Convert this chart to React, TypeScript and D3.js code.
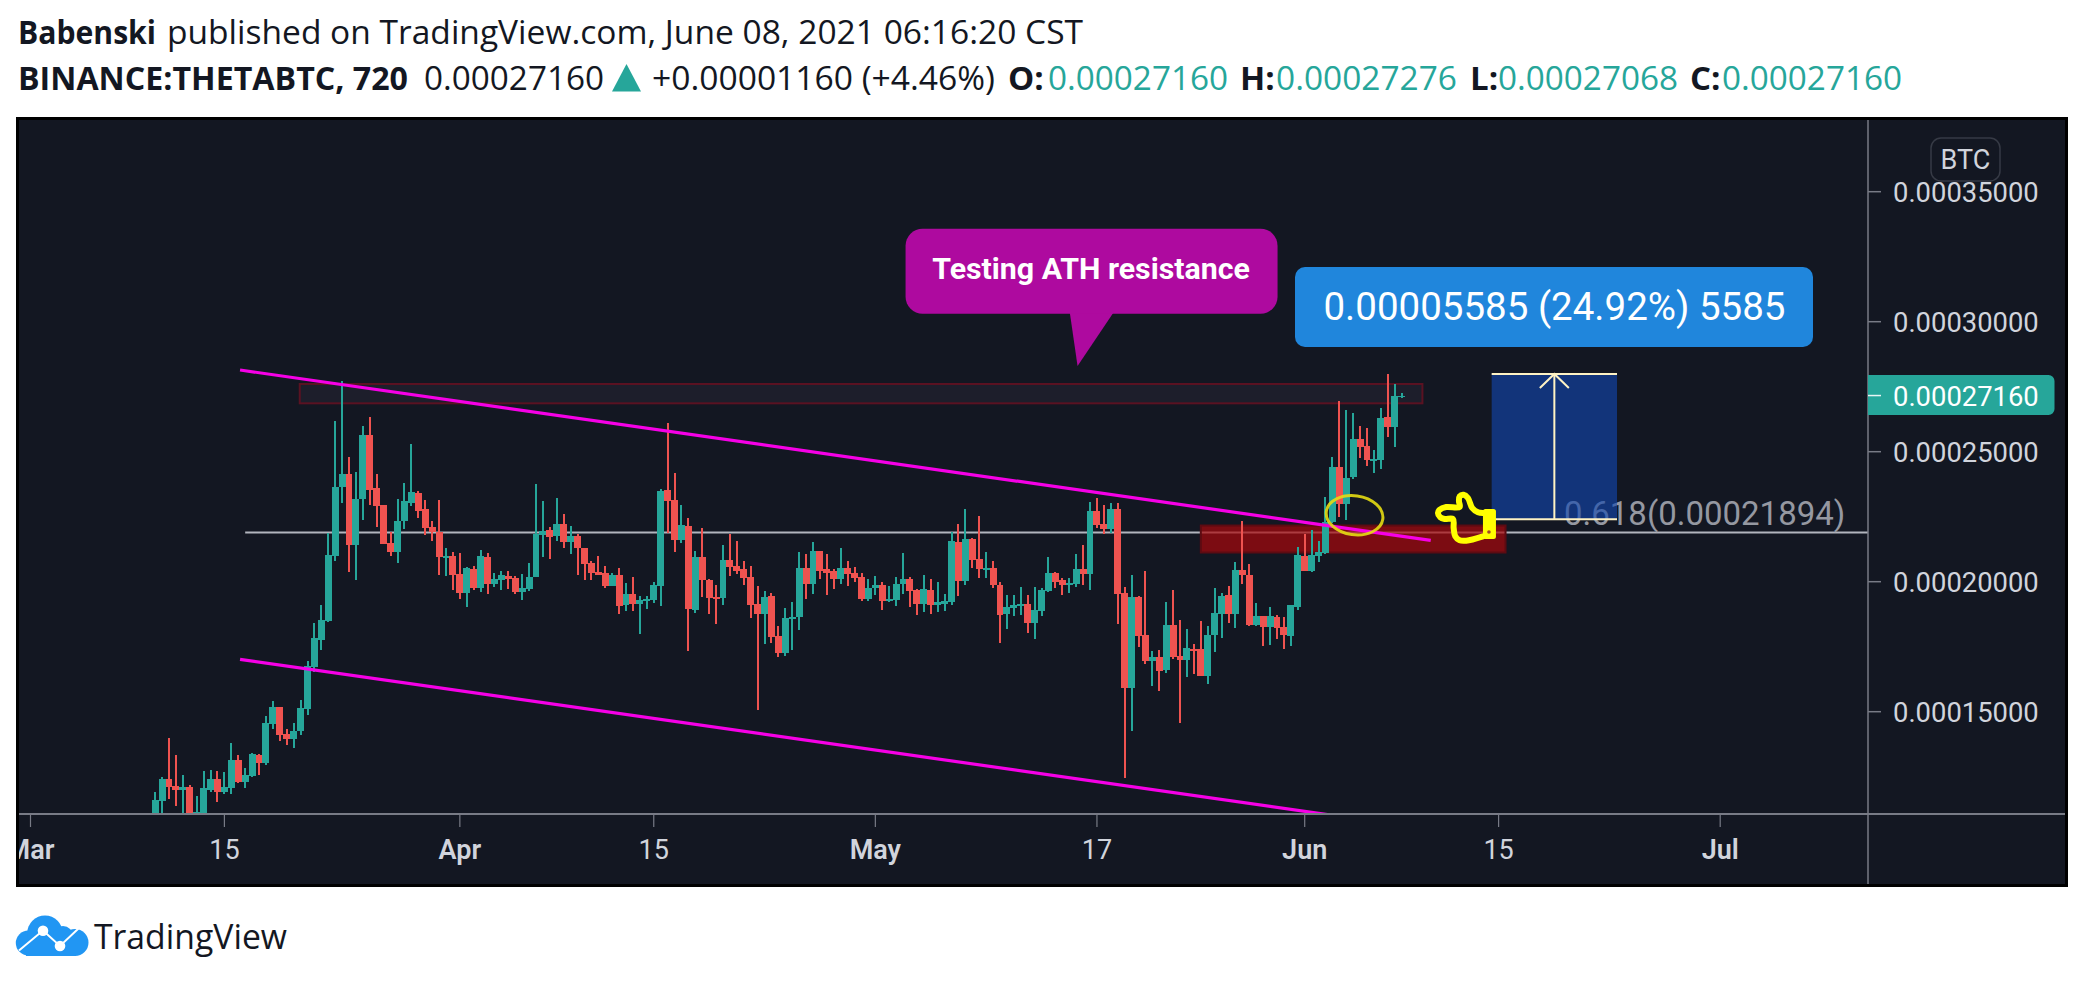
import React from "react";
import * as d3 from "d3";

// Prices are in satoshi (1e-8 BTC). Each candle: [open, high, low, close], one per 12h from 10 Mar 2021.
const candles: number[][] = [
[10835,11912,10579,11604],[11566,12489,11027,12412],[12412,13989,11643,12104],[12143,13335,11374,11989],[11989,12566,10963,12104],[12104,12181,10500,10771],[10963,11758,10800,11130],[11092,12720,10950,12066],[11989,12758,11912,12412],[12412,12720,11527,11912],
[11912,12681,11835,12104],[12066,13797,11835,13143],[13143,13335,12258,12296],[12296,12835,12066,12566],[12527,13412,12489,13374],[13335,13374,12566,13027],[13027,14835,12950,14566],[14527,15412,14335,15181],[15181,15181,13874,14104],[14143,14335,13720,13950],
[13950,14566,13604,14258],[14258,15450,14104,15143],[15104,16950,14873,16758],[16720,18412,16527,17835],[17758,19104,17373,18527],[18489,21873,18450,21027],[20989,26181,20796,23642],[23642,27719,23027,24142],[24142,24796,20373,21412],[21412,24219,20066,23181],
[23181,25988,22373,25642],[25642,26335,22950,23527],[23604,24142,22104,22912],[22950,22950,21450,21450],[21489,21912,20989,21142],[21142,23181,20719,22335],[22335,23796,22027,23104],[23027,25296,22912,23450],[23412,23489,22450,22719],[22796,23142,21796,22066],
[22104,22335,21566,21912],[21912,23142,20258,20950],[20912,21296,20219,20989],[20989,21142,19681,20258],[20296,21104,19335,19566],[19566,20566,19027,20527],[20489,20604,19681,19758],[19758,21219,19604,20989],[20950,21104,19527,19912],[19912,20335,19796,20104],
[20066,20412,19681,20258],[20219,20412,19719,20104],[20142,20219,19527,19604],[19604,20296,19296,19758],[19719,20719,19642,20181],[20181,23757,20181,21834],[21796,23104,20950,21950],[21988,22104,20873,21719],[21757,23219,21565,22219],[22219,22604,21296,21527],
[21527,22142,21065,21757],[21757,21834,20257,21296],[21296,21296,20065,20681],[20719,20796,20065,20334],[20373,20988,20257,20257],[20334,20604,19757,19834],[19834,20334,19834,20257],[20257,20527,18758,19065],[19104,19950,18873,19527],[19527,20181,18873,19142],
[19142,19450,17988,19296],[19257,19450,18950,19334],[19296,19988,19181,19873],[19834,23565,19065,23488],[23527,26103,21873,23104],[23142,24180,21142,21604],[21604,22950,21488,22180],[22142,22450,17335,18950],[18911,21181,18796,20950],[20950,22065,19411,20065],
[20065,20104,18758,19373],[19411,19873,18373,19373],[19373,21411,19104,20834],[20834,21834,20219,20565],[20604,21565,20296,20411],[20488,20796,19873,20142],[20181,20604,18604,19104],[19142,19834,15065,18758],[18758,19642,17604,19411],[19450,19565,17642,17873],
[17911,18296,17104,17258],[17258,18988,17142,18604],[18604,19219,17373,18642],[18642,21142,18142,20527],[20527,21065,19334,19911],[19911,21527,19527,21181],[21181,21181,20104,20411],[20488,21065,19488,20334],[20411,20488,19719,20104],[20104,21296,19911,20527],
[20527,20796,19834,20296],[20334,20565,19988,20142],[20181,20334,19257,19334],[19334,20104,19257,19758],[19758,20219,19488,19873],[19873,19988,18911,19257],[19257,19834,19219,19334],[19296,20181,19065,19911],[19912,21104,19527,20104],[20104,20181,19027,19643],
[19681,19720,18720,19143],[19143,20258,18835,19720],[19681,20104,18758,19104],[19104,19989,18835,19220],[19143,19527,18874,19258],[19220,21912,19104,21566],[21527,22220,19450,20027],[20027,22796,19873,21643],[21643,21681,20527,20835],[20873,22527,20143,20489],
[20489,21143,20143,20527],[20527,20797,19758,19873],[19873,19989,17643,18720],[18758,19489,18181,19027],[18989,19489,18681,19104],[19066,19797,18720,19143],[19143,19489,18027,18412],[18412,19797,17797,18912],[18874,19758,18681,19681],[19643,20950,19604,20335],
[20335,20373,19758,19989],[20066,20143,19489,19873],[19873,20143,19566,19950],[19912,21066,19797,20489],[20489,21412,19873,20296],[20296,23066,19681,22720],[22720,23220,22066,22181],[22220,22950,21835,22027],[22027,23027,21873,22796],[22796,23027,18374,19527],
[19566,19797,12451,15912],[15912,20258,14258,19412],[19412,19450,17489,17912],[17950,20412,16835,16950],[16950,17335,15989,17104],[17104,17374,15797,16566],[16604,19220,16489,18335],[18335,19681,17027,17104],[17143,18527,14566,16989],[16989,18181,16335,17451],
[17412,17604,16451,17335],[17412,18489,16374,16374],[16374,18297,16066,17950],[17950,19758,17297,18797],[18758,19566,17835,19450],[19489,19835,18412,18758],[18758,20758,18220,20450],[20450,22335,19912,20258],[20258,20681,18297,18335],[18335,19181,18297,18681],
[18681,18681,17527,18258],[18258,19027,17566,18681],[18643,18720,17797,18220],[18258,18643,17412,17950],[17912,19104,17527,19104],[19027,21335,18912,21027],[20989,21835,20412,20412],[20412,21989,20373,21027],[20989,21566,20758,21143],[21104,23258,21066,22296],
[22296,24796,22245,24412],[24412,26950,22489,22989],[22989,26604,22373,23989],[24027,26489,23950,25489],[25489,25989,24758,25181],[25219,25912,24450,24681],[24642,25066,24181,24719],[24681,26681,24335,26296],[26335,27989,25566,25950],[25950,27604,25181,27142],
[27160,27276,27068,27160],
];
const firstCandleDay = 9; // days after 1 Mar 2021
const priceTicks = [15000, 20000, 25000, 30000, 35000];
const lastPrice = 27160;
const dateTicks: [number, string, boolean][] = [
  [0, "Mar", true], [14, "15", false], [31, "Apr", true], [45, "15", false], [61, "May", true],
  [77, "17", false], [92, "Jun", true], [106, "15", false], [122, "Jul", true],
];
// Drawings, as [day after 1 Mar, price]
const upperTrend = [[15.13, 28142], [101.1, 21592]];
const lowerTrend = [[15.13, 17015], [98.9, 10643]];
const fibPrice = 21894;
const fibStartDay = 15.5;
const athZone = { d0: 19.44, d1: 100.5, p0: 27604, p1: 26861 };
const redZone = { d0: 84.5, d1: 106.5, p0: 22161, p1: 21123 };
const measure = { d0: 105.5, d1: 114.55, top: 27989, bottom: 22404 };
const circleAt = [95.6, 22554];
const handAt = [104.87, 22796];
const calloutTip = [75.6, 28296];
const handOutline: [number, number][] = [[0,4],[-5,3.3],[-10.7,-1],[-15,-11],[-19.3,-14.3],[-23.3,-12.7],[-24,-7.7],[-23.3,-2],[-36.7,-2],[-43.3,.7],[-45,4],[-42.7,8.3],[-38.3,10],[-30,10],[-29.3,19],[-27.7,27.3],[-23.3,31.3],[-16.7,31.7],[0,27.3]];

const GREEN = "#26a69a", RED = "#ef5350", BG = "#131722", AXIS = "#787b86", TXT = "#d1d4dc", MAGENTA = "#f600e6";
const X = d3.scaleLinear().domain([0, 122]).range([30.5, 30.5 + 122 * 13.85]);
const Y = d3.scaleLinear().domain([15000, 35000]).range([711.7, 191.7]);
const fmt = (v: number) => (v / 1e8).toFixed(8);
const roboto = "Roboto, sans-serif", open = "'Open Sans', sans-serif";
const fit = { lengthAdjust: "spacingAndGlyphs" as const };

export default function App() {
  const AX = 1868, AY = 814;
  const line = d3.line<number[]>().x(d => X(d[0])).y(d => Y(d[1]));
  const hand = d3.line().curve(d3.curveCatmullRom)(handOutline) || "";
  const hx = X(handAt[0]), hy = Y(handAt[1]);
  const tx = X(calloutTip[0]), ty = Y(calloutTip[1]);
  const mx0 = X(measure.d0), mx1 = X(measure.d1), mt = Y(measure.top), mb = Y(measure.bottom), mc = (mx0 + mx1) / 2;
  const zone = (z: typeof athZone) => ({ x: X(z.d0), y: Y(z.p0), width: X(z.d1) - X(z.d0), height: Y(z.p1) - Y(z.p0) });
  return (
    <svg width={2084} height={985} style={{ position: "fixed", left: 0, top: 0, background: "#fff" }}>
      <defs>
        <clipPath id="plot"><rect x={19} y={120} width={AX - 19} height={AY - 120} /></clipPath>
        <clipPath id="panel"><rect x={19} y={120} width={2046} height={764} /></clipPath>
      </defs>
      <g fontFamily={open} fontSize={33} fill="#131722">
        <text x={18} y={44} fontWeight={700} textLength={138} {...fit}>Babenski</text>
        <text x={167} y={44} textLength={916} {...fit}>published on TradingView.com, June 08, 2021 06:16:20 CST</text>
        <text x={18} y={90} fontWeight={700} textLength={390} {...fit}>BINANCE:THETABTC, 720</text>
        <text x={424} y={90} textLength={180} {...fit}>0.00027160</text>
        <path d="M612 91.5L641 91.5L626.5 64Z" fill={GREEN} />
        <text x={652} y={90} textLength={343} {...fit}>+0.00001160 (+4.46%)</text>
        <text x={1008} y={90} fontWeight={700}>O:</text>
        <text x={1048} y={90} fill={GREEN} textLength={180} {...fit}>0.00027160</text>
        <text x={1240} y={90} fontWeight={700}>H:</text>
        <text x={1276} y={90} fill={GREEN} textLength={181} {...fit}>0.00027276</text>
        <text x={1470} y={90} fontWeight={700}>L:</text>
        <text x={1498} y={90} fill={GREEN} textLength={180} {...fit}>0.00027068</text>
        <text x={1690} y={90} fontWeight={700}>C:</text>
        <text x={1722} y={90} fill={GREEN} textLength={180} {...fit}>0.00027160</text>
      </g>

      <rect x={17.5} y={118.5} width={2049} height={767} fill={BG} stroke="#000" strokeWidth={3} />

      <g clipPath="url(#plot)">
        <line x1={X(fibStartDay)} x2={AX} y1={Y(fibPrice)} y2={Y(fibPrice)} stroke="#b2b5be" strokeWidth={2} />
        <text x={1564} y={525} fontFamily={roboto} fontSize={33} fill="#9598a1">0.618({fmt(fibPrice)})</text>
        <rect {...zone(athZone)} fill="#1d1e2b" stroke="#5a1222" strokeWidth={2} />
        <rect {...zone(redZone)} fill="rgb(170,9,11)" fillOpacity={0.7} stroke="#5c0b12" strokeWidth={2} />
        <g shapeRendering="crispEdges">
          {candles.map((c, i) => {
            const [o, h, l, cl] = c;
            const x = X(firstCandleDay + i / 2);
            const next = X(firstCandleDay + (i + 1) / 2);
            const left = Math.round(x - 3.5);
            const w = Math.round(next - 3.5) - left;
            const col = cl >= o ? GREEN : RED;
            const yt = Math.round(Y(Math.max(o, cl)));
            const yb = Math.round(Y(Math.min(o, cl)));
            const narrow = i === candles.length - 1;
            return (
              <g key={i} fill={col}>
                <rect x={Math.round(x - 1)} y={Math.round(Y(h))} width={2} height={Math.round(Y(l)) - Math.round(Y(h))} />
                <rect x={left} y={yt} width={w} height={Math.max(narrow ? 1 : 2, yb - yt)} />
              </g>
            );
          })}
        </g>
        {[upperTrend, lowerTrend].map((t, i) => (
          <path key={i} d={line(t) || ""} stroke={MAGENTA} strokeWidth={3.2} fill="none" />
        ))}
        <rect x={mx0} y={mt} width={mx1 - mx0} height={mb - mt} fill="rgb(17,71,176)" fillOpacity={0.62} />
        <g stroke="#fff3c4" strokeWidth={2} fill="none">
          <line x1={mx0} x2={mx1} y1={mt} y2={mt} />
          <line x1={mx0} x2={mx1} y1={mb} y2={mb} />
          <line x1={mc} x2={mc} y1={mt} y2={mb} />
          <path d={`M${mc - 14.5} ${mt + 14}L${mc} ${mt}L${mc + 14.5} ${mt + 14}`} />
        </g>
        <ellipse cx={X(circleAt[0])} cy={Y(circleAt[1])} rx={28.5} ry={19.5} fill="none" stroke="#e6dc12" strokeWidth={3} opacity={0.9}
          transform={`rotate(8 ${X(circleAt[0])} ${Y(circleAt[1])})`} />
        <g transform={`translate(${hx},${hy})`}>
          <path d={hand} fill="none" stroke="#ffff00" strokeWidth={6} strokeLinecap="round" strokeLinejoin="round" />
          <rect x={0} y={0} width={13} height={30} rx={2.5} fill="#ffff00" />
          <circle cx={6} cy={23} r={1.8} fill="#a04a2a" />
        </g>
        <path d={`M${tx - 7.7} ${ty - 53}L${tx} ${ty}L${tx + 35.6} ${ty - 53}Z`} fill="#ae0a9f" />
        <rect x={tx - 172} y={ty - 137.3} width={372} height={85} rx={17} fill="#ae0a9f" />
        <text x={tx + 13.5} y={ty - 86.7} textAnchor="middle" fontFamily={roboto} fontWeight={700} fontSize={30.3} fill="#fff">Testing ATH resistance</text>
        <rect x={1295} y={267} width={518} height={80} rx={10} fill="#2086dc" />
        <text x={1554.5} y={319.5} textAnchor="middle" fontFamily={roboto} fontSize={38.5} fill="#fff">{fmt(measure.top - measure.bottom)} (24.92%) {measure.top - measure.bottom}</text>
      </g>

      <g clipPath="url(#panel)">
        <line x1={19} x2={2065} y1={AY} y2={AY} stroke={AXIS} strokeWidth={2} />
        <line x1={AX} x2={AX} y1={120} y2={884} stroke={AXIS} strokeWidth={1.5} />
        {dateTicks.map(([d, label, major], i) => (
          <g key={i}>
            <line x1={X(d)} x2={X(d)} y1={AY} y2={827} stroke={AXIS} strokeWidth={1.2} />
            <text x={X(d)} y={858.5} textAnchor="middle" fontFamily={roboto} fontSize={27} fontWeight={major ? 600 : 400} fill={TXT}>{label}</text>
          </g>
        ))}
        {priceTicks.map(p => (
          <g key={p}>
            <line x1={AX} x2={AX + 13} y1={Y(p)} y2={Y(p)} stroke={AXIS} strokeWidth={1.5} />
            <text x={1893} y={Y(p) + 10.5} fontFamily={roboto} fontSize={27.4} fill={TXT}>{fmt(p)}</text>
          </g>
        ))}
        <path d={`M${AX} 375H2048.5a6 6 0 0 1 6 6V409a6 6 0 0 1 -6 6H${AX}Z`} fill={GREEN} />
        <line x1={AX} x2={AX + 13} y1={Y(lastPrice)} y2={Y(lastPrice)} stroke="#e8f5f3" strokeWidth={1.5} />
        <text x={1893} y={Y(lastPrice) + 10.5} fontFamily={roboto} fontSize={27.4} fill="#fff">{fmt(lastPrice)}</text>
        <rect x={1931} y={138} width={69} height={43} rx={10} fill={BG} stroke="#363a45" strokeWidth={1.5} />
        <text x={1965.5} y={168.5} textAnchor="middle" fontFamily={roboto} fontSize={27} fill={TXT}>BTC</text>
      </g>

      <g>
        <g fill="#2196f3">
          <circle cx={28.3} cy={943} r={12.5} />
          <circle cx={45} cy={933.3} r={17.8} />
          <circle cx={63} cy={936} r={10} />
          <circle cx={75} cy={942.5} r={13.5} />
          <rect x={26} y={938} width={50} height={18} />
        </g>
        <path d="M19 950.5L43 930.5L60 946L79 928" fill="none" stroke="#fff" strokeWidth={2} />
        <circle cx={43} cy={930.7} r={5.3} fill="#fff" />
        <circle cx={60} cy={946} r={5.3} fill="#fff" />
        <text x={94} y={948.5} fontFamily={open} fontSize={35} fill="#131722" textLength={193} {...fit}>TradingView</text>
      </g>
    </svg>
  );
}
